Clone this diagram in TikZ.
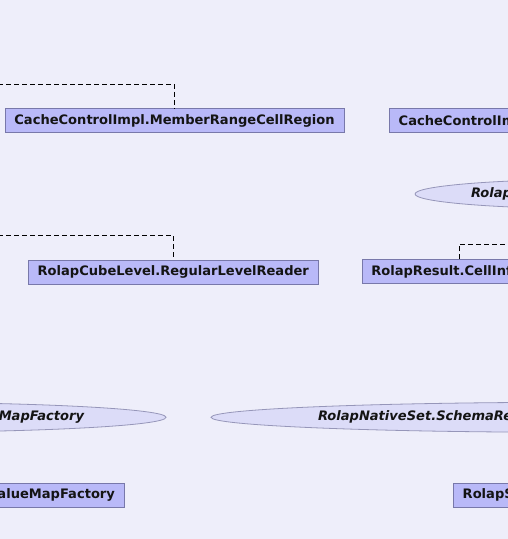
\documentclass[tikz,border=0pt]{standalone}
\usepackage{fontspec}
\setmainfont{DejaVu Sans}
\usetikzlibrary{shapes.geometric}
\definecolor{bgc}{RGB}{238,238,250}
\definecolor{boxfill}{RGB}{185,185,248}
\definecolor{boxline}{RGB}{120,120,170}
\definecolor{elfill}{RGB}{220,220,248}
\definecolor{elline}{RGB}{150,150,185}
\definecolor{txt}{RGB}{20,20,20}
\begin{document}
\begin{tikzpicture}[x=1bp,y=-1bp,
 cls/.style={draw=boxline, fill=boxfill, line width=0.8bp, inner xsep=9bp, inner ysep=0pt,
   minimum height=24bp, font=\fontsize{13.1}{15}\selectfont\bfseries, text=txt},
 iface/.style={ellipse, draw=elline, fill=elfill, line width=0.8bp, inner sep=0pt,
   minimum height=30bp, font=\fontsize{13.1}{15}\selectfont\bfseries\itshape, text=txt},
 dep/.style={draw=black, line width=0.8bp, dash pattern=on 5bp off 3bp}]
\useasboundingbox (0,0) rectangle (508,539);
\fill[bgc] (0,0) rectangle (508,539);
\clip (0,0) rectangle (508,539);
% nodes
\node[cls, minimum width=339bp] (mrcr) at (174.5,120.8) {CacheControlImpl.MemberRangeCellRegion};
\node[cls, anchor=west, text width=220bp, align=left] (cci) at (389.3,120.8) {CacheControlIm};
\node[iface, text width=270bp, align=left, minimum width=382bp] (rolap) at (606,194) {Rolap};
\node[cls, minimum width=288bp] (rlr) at (173.3,272) {RolapCubeLevel.RegularLevelReader};
\node[cls, text width=176bp, align=left] (rci) at (459.3,271.8) {RolapResult.CellInf};
\node[iface, text width=396bp, align=right, minimum width=560bp] (vmf) at (-114,417.3) {MapFactory};
\node[iface, text width=516bp, align=left, minimum width=730bp] (srs) at (576,417.3) {RolapNativeSet.SchemaRe};
\node[cls, anchor=east, text width=200bp, align=right] (svmf) at (124.3,495.3) {alueMapFactory};
\node[cls, anchor=west, text width=200bp, align=left] (rs) at (453.3,495.3) {RolapS};
% connectors
\coordinate (l1) at (-10,84.3);
\draw[dep] (l1) -| (mrcr.north);
\coordinate (l3) at (-10,235.3);
\draw[dep] (l3) -| (rlr.north);
\coordinate (r4) at (520,244.3);
\draw[dep] (rci.north) |- (r4);
\end{tikzpicture}
\end{document}
